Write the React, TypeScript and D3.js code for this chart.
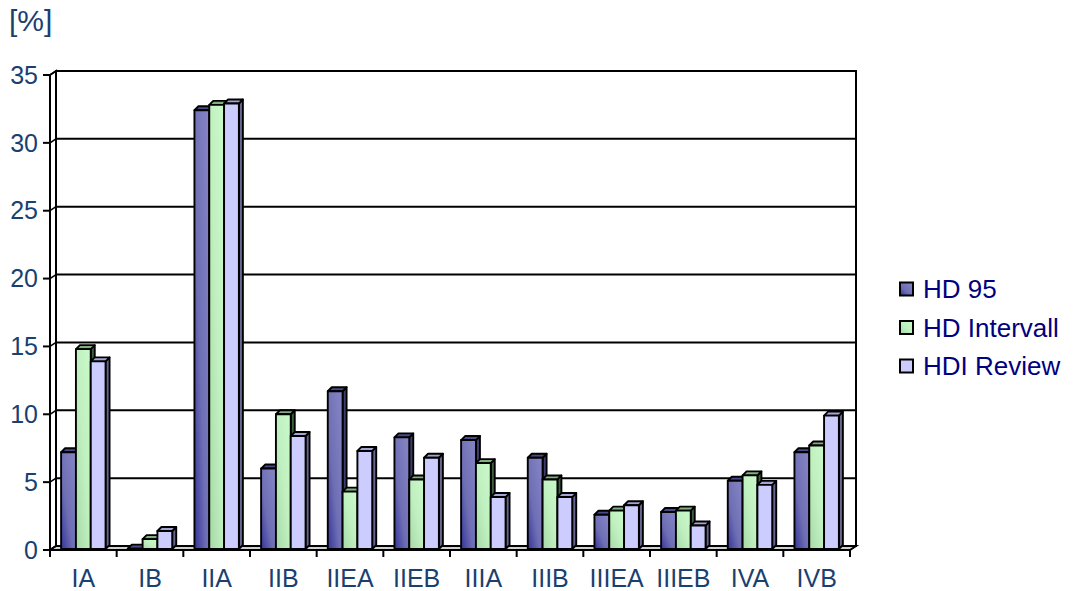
import React from "react";
import * as d3 from "d3";

const categories = ["IA", "IB", "IIA", "IIB", "IIEA", "IIEB", "IIIA", "IIIB", "IIIEA", "IIIEB", "IVA", "IVB"];
const seriesNames = ["HD 95", "HD Intervall", "HDI Review"];
const hd95 = [7.2, 0.1, 32.4, 6.0, 11.7, 8.3, 8.1, 6.8, 2.6, 2.8, 5.1, 7.2];
const hdIntervall = [14.8, 0.8, 32.8, 10.0, 4.3, 5.2, 6.4, 5.2, 2.9, 2.9, 5.5, 7.7];
const hdiReview = [13.9, 1.4, 32.9, 8.4, 7.3, 6.8, 3.9, 3.9, 3.3, 1.8, 4.8, 9.9];
const yTicks = [0, 5, 10, 15, 20, 25, 30, 35];

const seriesValues = [hd95, hdIntervall, hdiReview];

const faces = [
  { front: "url(#gBlue)", side: "#3e3e6e", top: "#4a4a86", legend: "url(#gBlue)" },
  { front: "url(#gGreen)", side: "#3f5f3f", top: "#7fb07f", legend: "url(#gGreen)" },
  { front: "#ccccff", side: "#66668f", top: "#a4a4d4", legend: "#ccccff" },
];

export default function App() {
  const W = 1074;
  const H = 591;
  const x0 = 50;
  const x1 = 850;
  const y0 = 550;
  const yTop = 75;
  // depth offsets for the wall and for each column
  const wdx = 6;
  const wdy = -4;
  const bdx = 4;
  const bdy = -4;

  const x = d3.scaleBand<string>().domain(categories).range([x0, x1]).paddingInner(0).paddingOuter(0);
  const y = d3.scaleLinear().domain([0, 35]).range([y0, yTop]);
  const bw = x.bandwidth() / 4.5;
  const labelColor = "#1b3f6f";
  const font = "'Liberation Sans', Arial, sans-serif";

  const bars: React.ReactNode[] = [];
  categories.forEach((c, ci) => {
    seriesValues.forEach((vals, si) => {
      const v = vals[ci];
      const bx = (x(c) as number) + bw * 0.75 + si * bw;
      const by = y(v);
      const base = y(0) - 1;
      const f = faces[si];
      bars.push(
        <g key={`${ci}-${si}`} stroke="#000" strokeWidth={1.9} strokeLinejoin="round">
          <polygon
            points={`${bx + bw},${base} ${bx + bw + bdx},${base + bdy} ${bx + bw + bdx},${by + bdy} ${bx + bw},${by}`}
            fill={f.side}
          />
          <polygon
            points={`${bx},${by} ${bx + bdx},${by + bdy} ${bx + bw + bdx},${by + bdy} ${bx + bw},${by}`}
            fill={f.top}
          />
          <rect x={bx} y={by} width={bw} height={Math.max(base - by, 0.5)} fill={f.front} />
        </g>
      );
    });
  });

  return (
    <svg width={W} height={H} style={{ position: "absolute", left: 0, top: 0, background: "#fff" }}>
      <defs>
        <linearGradient id="gBlue" x1="0" y1="1" x2="1" y2="0">
          <stop offset="0" stopColor="#34349a" />
          <stop offset="0.4" stopColor="#6e6eb4" />
          <stop offset="1" stopColor="#8686c6" />
        </linearGradient>
        <linearGradient id="gGreen" x1="0" y1="1" x2="1" y2="0">
          <stop offset="0" stopColor="#a6d8a6" />
          <stop offset="0.5" stopColor="#c0f0c0" />
          <stop offset="1" stopColor="#cafaca" />
        </linearGradient>
      </defs>

      {/* back wall */}
      <rect x={x0 + wdx} y={yTop + wdy} width={x1 - x0} height={y0 - yTop} fill="#fff" stroke="#000" strokeWidth={2} />
      {/* gridlines on the back wall */}
      {yTicks.filter((t) => t > 0 && t < 35).map((t) => (
        <line key={t} x1={x0 + wdx} x2={x1 + wdx} y1={y(t) + wdy} y2={y(t) + wdy} stroke="#000" strokeWidth={2} />
      ))}
      {/* left wall */}
      <polygon
        points={`${x0},${y0} ${x0},${yTop} ${x0 + wdx},${yTop + wdy} ${x0 + wdx},${y0 + wdy}`}
        fill="#fff"
        stroke="#000"
        strokeWidth={2}
      />
      {/* floor */}
      <polygon
        points={`${x0},${y0} ${x1},${y0} ${x1 + wdx},${y0 + wdy} ${x0 + wdx},${y0 + wdy}`}
        fill="#d0d0d0"
        stroke="#000"
        strokeWidth={2}
      />

      {/* value axis ticks and labels */}
      {yTicks.map((t) => (
        <g key={t}>
          <line x1={x0 - 7} x2={x0} y1={y(t)} y2={y(t)} stroke="#000" strokeWidth={2} />
          <line x1={x0} x2={x0 + wdx} y1={y(t)} y2={y(t) + wdy} stroke="#000" strokeWidth={1.5} />
          <text x={38} y={y(t)} dy="0.35em" textAnchor="end" fontFamily={font} fontSize={25} fill={labelColor}>
            {t}
          </text>
        </g>
      ))}
      <text x={9} y={31} fontFamily={font} fontSize={30} fill={labelColor}>
        [%]
      </text>

      {bars}

      {/* category axis ticks and labels */}
      {d3.range(categories.length + 1).map((i) => {
        const tx = x0 + i * x.bandwidth();
        return <line key={i} x1={tx} x2={tx} y1={y0} y2={y0 + 7} stroke="#000" strokeWidth={2} />;
      })}
      {categories.map((c) => (
        <text
          key={c}
          x={(x(c) as number) + x.bandwidth() / 2}
          y={587}
          textAnchor="middle"
          fontFamily={font}
          fontSize={25}
          fill={labelColor}
        >
          {c}
        </text>
      ))}

      {/* legend */}
      {seriesNames.map((n, i) => {
        const ly = 289 + i * 38.5;
        return (
          <g key={n}>
            <rect x={900} y={ly - 6.5} width={13} height={13} fill={faces[i].legend} stroke="#000" strokeWidth={2} />
            <text x={923} y={ly} dy="0.36em" fontFamily={font} fontSize={26} fill="#000080">
              {n}
            </text>
          </g>
        );
      })}
    </svg>
  );
}
